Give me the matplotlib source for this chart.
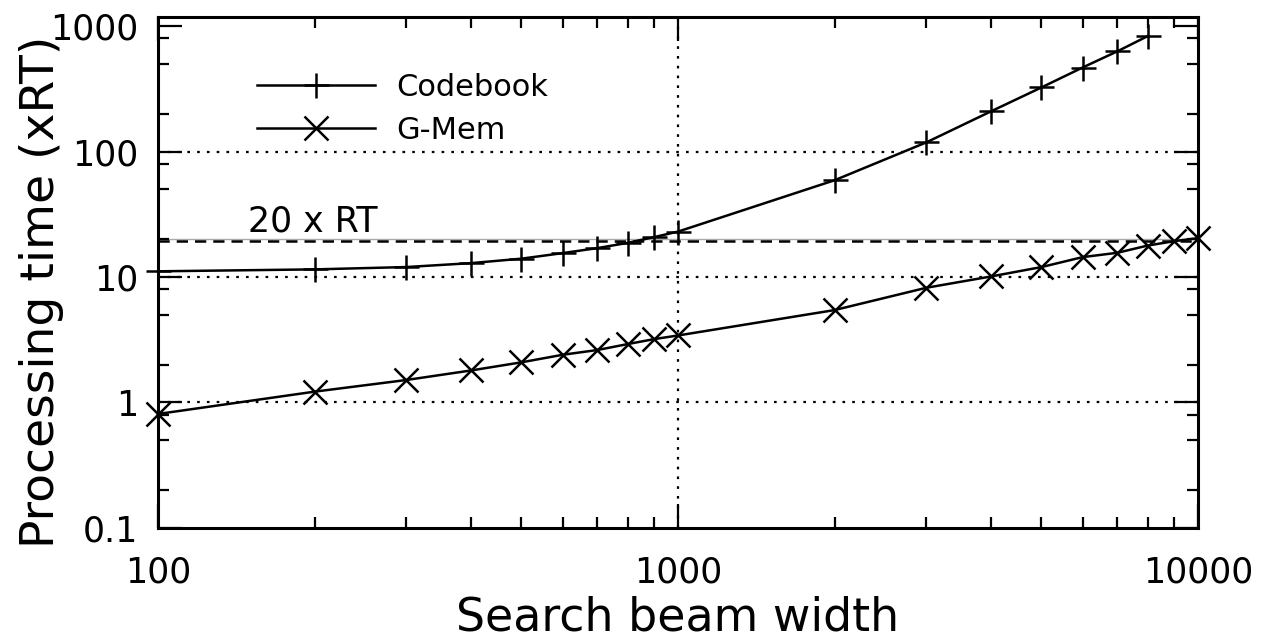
"""
Processing time vs. search beam width (Codebook vs. G-Mem), log-log.
"""
import numpy as np
import matplotlib
matplotlib.use("Agg")
import matplotlib.pyplot as plt
from matplotlib.ticker import FixedLocator, NullFormatter

plt.rcParams["font.family"] = ["DejaVu Sans"]

# ---- data ----
beam_cb = [100, 200, 300, 400, 500, 600, 700, 800, 900, 1000,
           2000, 3000, 4000, 5000, 6000, 7000, 8000]
codebook = [11.1, 11.5, 12.0, 12.9, 14.0, 15.5, 17.0, 18.7, 20.8, 23.0,
            59.0, 118, 209, 324, 467, 629, 830]

beam_gm = [100, 200, 300, 400, 500, 600, 700, 800, 900, 1000,
           2000, 3000, 4000, 5000, 6000, 7000, 8000, 9000, 10000]
gmem = [0.81, 1.22, 1.51, 1.80, 2.09, 2.40, 2.62, 2.92, 3.20, 3.42,
        5.45, 8.2, 10.1, 12.0, 14.4, 15.6, 17.8, 19.3, 20.4]

rt_limit = 20.0          # thin grey reference line
rt_dashed = 19.2         # dashed "20 x RT" line
rt_text = "20 x RT"

y_major = [0.1, 1, 10, 100, 1000]
y_major_lbl = ["0.1", "1", "10", "100", "1000"]
x_major = [100, 1000, 10000]
x_major_lbl = ["100", "1000", "10000"]


def main():
    fig = plt.figure(figsize=(12.68, 6.41), dpi=100)
    ax = fig.add_axes([0.1246, 0.1763, 0.8202, 0.7972])
    ax.set_xscale("log")
    ax.set_yscale("log")
    ax.set_xlim(100, 10000)
    ax.set_ylim(0.1, 1180)

    # grid: only the inner decades
    for yv in [1, 10, 100]:
        ax.axhline(yv, color="black", lw=1.6, ls=(0, (1.2, 3.2)), zorder=1)
    ax.axvline(1000, color="black", lw=1.6, ls=(0, (1.2, 3.2)), zorder=1)

    # 20 x RT reference
    ax.axhline(rt_limit, color="#aaaaaa", lw=1.0, zorder=1)
    ax.axhline(rt_dashed, color="black", lw=1.8, ls=(0, (4.5, 2.8)), zorder=1)
    ax.text(0.0865, 0.58, rt_text, transform=ax.transAxes, fontsize=25,
            ha="left", va="baseline")

    ax.plot(beam_cb, codebook, color="black", lw=1.8, marker="+", ms=18,
            mew=1.8, label="Codebook", clip_on=False, zorder=3)
    ax.plot(beam_gm, gmem, color="black", lw=1.8, marker="x", ms=17,
            mew=1.8, label="G-Mem", clip_on=False, zorder=3)

    # ticks: inward on all sides, minor 2,5,8 on y
    ax.xaxis.set_major_locator(FixedLocator(x_major))
    ax.set_xticklabels(x_major_lbl)
    ax.xaxis.set_minor_locator(FixedLocator(
        [m * d for d in (100, 1000) for m in range(2, 10)]))
    ax.xaxis.set_minor_formatter(NullFormatter())
    ax.yaxis.set_major_locator(FixedLocator(y_major))
    ax.set_yticklabels(y_major_lbl)
    ax.yaxis.set_minor_locator(FixedLocator(
        [m * d for d in (0.1, 1, 10, 100) for m in (2, 5, 8)]))
    ax.yaxis.set_minor_formatter(NullFormatter())
    ax.tick_params(which="both", direction="in", top=True, right=True,
                   width=1.6, labelsize=25)
    ax.tick_params(which="major", length=17)
    ax.tick_params(which="minor", length=8)
    ax.tick_params(axis="x", which="major", pad=20)
    ax.tick_params(axis="y", which="major", pad=14)

    for sp in ax.spines.values():
        sp.set_linewidth(2.2)

    ax.set_xlabel("Search beam width", fontsize=33, va="baseline")
    ax.set_ylabel("Processing time (xRT)", fontsize=34, va="center")
    ax.xaxis.set_label_coords(0.5, -0.2)
    ax.yaxis.set_label_coords(-0.112, 0.462)

    ax.legend(loc="upper left", bbox_to_anchor=(0.0837, 0.914), frameon=False,
              fontsize=22, handlelength=3.85, handletextpad=0.7,
              labelspacing=0.45, borderaxespad=0)

    fig.savefig("out.png", dpi=100)
    plt.close(fig)


if __name__ == "__main__":
    main()
